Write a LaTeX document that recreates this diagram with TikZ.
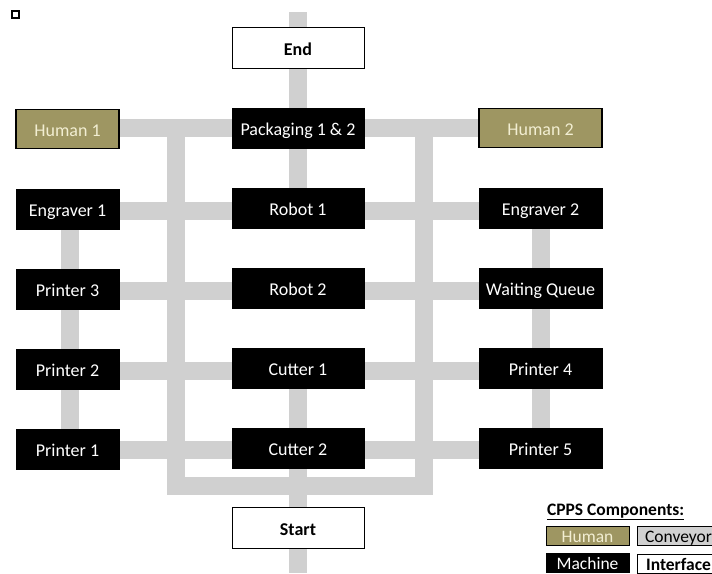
\documentclass[tikz,border=0pt]{standalone}
\usepackage{fontspec}
\setmainfont{Carlito}
\usetikzlibrary{backgrounds}
\definecolor{humanfill}{RGB}{158,150,98}
\definecolor{humantext}{RGB}{242,238,210}
\definecolor{convgray}{RGB}{208,208,208}
\begin{document}
\begin{tikzpicture}[x=1pt,y=-1pt,
  every node/.style={font=\fontsize{18}{21}\selectfont, inner sep=0pt, outer sep=0pt, anchor=center},
  boxtext/.style={text height=15pt, text depth=0pt},
  mach/.style={boxtext, fill=black, draw=black, text=white, minimum height=40pt},
  hum/.style={boxtext, fill=humanfill, draw=black, line width=1.2pt, text=humantext, minimum height=39pt},
  iface/.style={boxtext, fill=white, draw=black, line width=1pt, minimum height=41pt, font=\fontsize{18}{21}\selectfont\bfseries},
  conv/.style={draw=convgray, line width=18pt},
  midw/.style={minimum width=132pt},
  leftw/.style={minimum width=103pt},
  rightw/.style={minimum width=123pt},
  legw/.style={minimum width=83pt, minimum height=19pt, text height=13pt, text depth=0pt, font=\fontsize{17.5}{20}\selectfont}
]
\useasboundingbox (0,0) rectangle (712,573);

% small marker square
\draw[line width=2pt] (11.5,10.5) rectangle (18.5,17.5);

% centre column
\node[iface, midw] (end) at (298,47.5) {End};
\node[mach, midw] (pack) at (298,128) {Packaging 1 \& 2};
\node[mach, midw] (r1) at (298,208) {Robot 1};
\node[mach, midw] (r2) at (298,288) {Robot 2};
\node[mach, midw] (c1) at (298,368) {Cutter 1};
\node[mach, midw] (c2) at (298,448) {Cutter 2};
\node[iface, midw] (start) at (298,528) {Start};

% left column
\node[hum, leftw] (h1) at (67.5,129) {Human 1};
\node[mach, leftw] (e1) at (67.5,209) {Engraver 1};
\node[mach, leftw] (p3) at (67.5,289) {Printer 3};
\node[mach, leftw] (p2) at (67.5,369) {Printer 2};
\node[mach, leftw] (p1) at (67.5,449) {Printer 1};

% right column
\node[hum, rightw] (h2) at (540.5,128) {Human 2};
\node[mach, rightw] (e2) at (540.5,208) {Engraver 2};
\node[mach, rightw] (wq) at (540.5,288) {Waiting Queue};
\node[mach, rightw] (p4) at (540.5,368) {Printer 4};
\node[mach, rightw] (p5) at (540.5,448) {Printer 5};

% legend
\node[font=\fontsize{17.5}{20}\selectfont\bfseries, anchor=base west] (legtitle) at (547,515) {\underline{CPPS Components:}};
\node[hum, legw, line width=1pt] (lh) at (587.5,535.5) {Human};
\node[draw=black, fill=convgray, line width=0.8pt, legw] (lc) at (678.5,536) {Conveyor};
\node[mach, legw] (lm) at (587.5,562.5) {Machine};
\node[draw=black, fill=white, line width=1pt, legw, font=\fontsize{17.5}{20}\selectfont\bfseries] (li) at (678.5,563.5) {Interface};

% conveyors
\coordinate (ctop) at (298,12);
\coordinate (cbot) at (298,573);
\coordinate (lt) at (176,128);
\coordinate (lb) at (176,486);
\coordinate (rb) at (424,486);
\coordinate (rt) at (424,128);
\begin{pgfonlayer}{background}
  \fill[white] (0,0) rectangle (712,573);
  \draw[conv] (ctop) -- (r1.center);
  \draw[conv] (c1.center) -- (cbot);
  \draw[conv] (h1.west |- pack.center) -- (h2.center);
  \draw[conv, line join=miter] (lt) -- (lb) -- (rb) -- (rt);
  \draw[conv] ([xshift=2pt]e1.center) -- ([xshift=2pt]p1.center);
  \draw[conv] (e2.center) -- (p5.center);
  \draw[conv] ([yshift=-2pt]e1.center) -- ([yshift=-2pt]e2.center |- e1.center);
  \draw[conv] ([yshift=-2pt]p3.center) -- ([yshift=-2pt]wq.center |- p3.center);
  \draw[conv] ([yshift=-2pt]p2.center) -- ([yshift=-2pt]p4.center |- p2.center);
  \draw[conv] ([yshift=-1pt]p1.center) -- ([yshift=-1pt]p5.center |- p1.center);
\end{pgfonlayer}
\end{tikzpicture}
\end{document}
